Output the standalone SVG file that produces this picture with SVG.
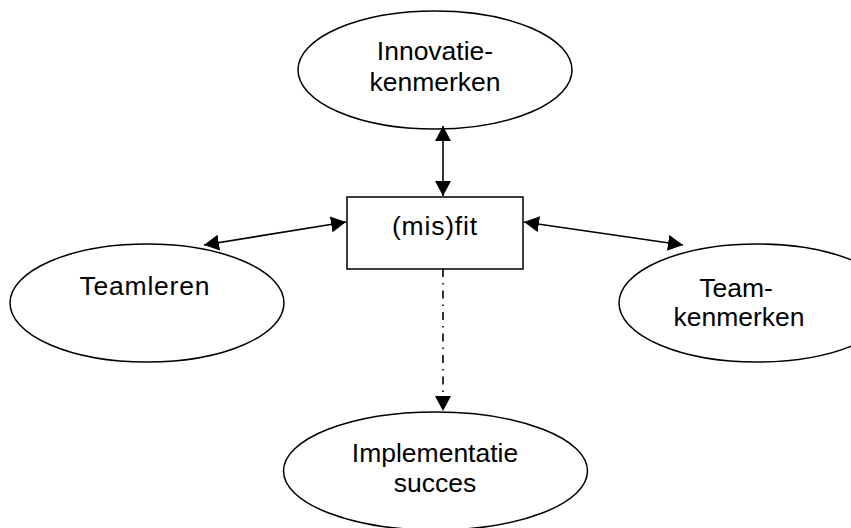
<svg xmlns="http://www.w3.org/2000/svg" width="851" height="528" viewBox="0 0 851 528">
<style>
.n{fill:#fff;stroke:#000;stroke-width:1.5}
.t{font-family:"Liberation Sans",Arial,sans-serif;font-size:26.5px;fill:#000;text-anchor:middle}
.c{stroke:#000;stroke-width:1.6;fill:none}
</style>
<defs>
<marker id="ah" markerUnits="userSpaceOnUse" markerWidth="16" markerHeight="16" refX="15" refY="8" orient="auto-start-reverse" viewBox="0 0 16 16">
<path d="M0,0 L15,8 L0,16 z" fill="#000"/>
</marker>
</defs>
<rect width="851" height="528" fill="#fff"/>
<g id="innovatie">
<ellipse class="n" cx="435" cy="70" rx="137" ry="59"/>
<text class="t" x="435" y="60">Innovatie-</text>
<text class="t" x="435" y="91">kenmerken</text>
</g>
<g id="misfit">
<rect class="n" x="347" y="197" width="176" height="72"/>
<text class="t" x="434.5" y="235" textLength="85">(mis)fit</text>
</g>
<g id="teamleren">
<ellipse class="n" cx="147" cy="303" rx="137" ry="59"/>
<text class="t" x="144.5" y="295" textLength="130">Teamleren</text>
</g>
<g id="teamkenmerken">
<ellipse class="n" cx="757" cy="303" rx="138" ry="59"/>
<text class="t" x="736" y="297">Team-</text>
<text class="t" x="739" y="326">kenmerken</text>
</g>
<g id="implementatie">
<ellipse class="n" cx="435.5" cy="471" rx="152" ry="59"/>
<text class="t" x="435" y="462">Implementatie</text>
<text class="t" x="435" y="492">succes</text>
</g>
<g id="connectors">
<line class="c" x1="443" y1="126" x2="443" y2="196" marker-start="url(#ah)" marker-end="url(#ah)"/>
<line class="c" x1="204" y1="245" x2="346" y2="222" marker-start="url(#ah)" marker-end="url(#ah)"/>
<line class="c" x1="524" y1="222" x2="683" y2="245" marker-start="url(#ah)" marker-end="url(#ah)"/>
<line class="c" x1="443" y1="269" x2="443" y2="411" stroke-dasharray="8 6 1.5 6" marker-end="url(#ah)"/>
</g>
</svg>
